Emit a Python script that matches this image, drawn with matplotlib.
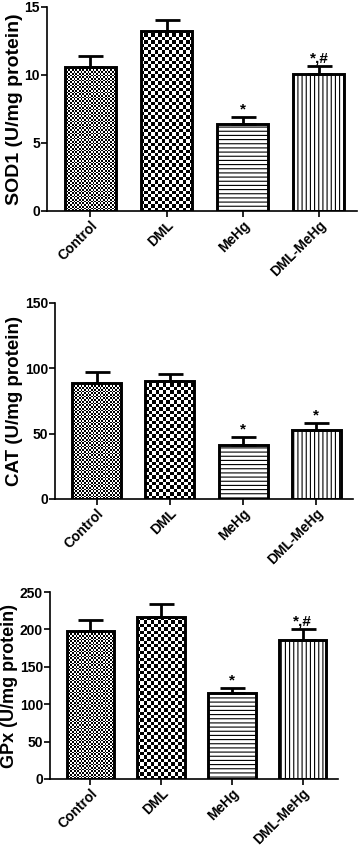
import numpy as np
import matplotlib
matplotlib.use("Agg")
import matplotlib.pyplot as plt

plt.rcParams['font.family'] = ['Liberation Sans', 'DejaVu Sans']
plt.rcParams['font.weight'] = 'bold'
plt.rcParams['hatch.linewidth'] = 0.8

groups = ["Control", "DML", "MeHg", "DML-MeHg"]

sod1_mean = [10.6, 13.25, 6.4, 10.05]
sod1_err = [0.8, 0.8, 0.5, 0.6]
sod1_marks = ["", "", "*", "*,#"]

cat_mean = [89, 90.5, 41.5, 53]
cat_err = [8, 5, 6, 5.5]
cat_marks = ["", "", "*", "*"]

gpx_mean = [198, 216, 114.5, 185.5]
gpx_err = [14, 18, 7.5, 14.5]
gpx_marks = ["", "", "*", "*,#"]

W, H = 358, 852
fig = plt.figure(figsize=(W / 100, H / 100), dpi=100)


def checker_fill(ax, bar, cell_px):
    # fill a bar with a checkerboard image clipped to the bar
    x0, y0 = bar.get_x(), bar.get_y()
    x1, y1 = x0 + bar.get_width(), y0 + bar.get_height()
    p0 = ax.transData.transform((x0, y0))
    p1 = ax.transData.transform((x1, y1))
    nx = max(1, int(round(abs(p1[0] - p0[0]) / cell_px)))
    ny = max(1, int(round(abs(p1[1] - p0[1]) / cell_px)))
    img = (np.indices((ny, nx)).sum(axis=0) % 2).astype(float)
    im = ax.imshow(img, cmap="gray", extent=(x0, x1, y0, y1), origin="lower",
                   interpolation="nearest", aspect="auto", zorder=1)
    im.set_clip_path(bar)


def panel(rect, means, errs, marks, ylim, yticks, ylabel, lab_size):
    left, top, right, bottom = rect
    ax = fig.add_axes([left / W, 1 - bottom / H, (right - left) / W, (bottom - top) / H])
    x = np.arange(len(groups))
    ax.set_xlim(-0.57, 3.5)
    ax.set_ylim(*ylim)
    hatches = ["", "", "----", "||||"]
    bars = ax.bar(x, means, width=0.67, color="white", edgecolor="black",
                  linewidth=2.1, zorder=2)
    for b, h in zip(bars, hatches):
        b.set_hatch(h)
        b.set_facecolor("none" if h == "" else "white")
    ax.errorbar(x, means, yerr=[np.zeros(4), errs], fmt="none", ecolor="black",
                elinewidth=2.0, capsize=9, capthick=2.0, zorder=3)
    checker_fill(ax, bars[0], 1.7)
    checker_fill(ax, bars[1], 3.4)
    span = ylim[1] - ylim[0]
    for xi, m, e, t in zip(x, means, errs, marks):
        if t:
            ax.text(xi, m + e + span * 0.003, t, ha="center", va="bottom",
                    fontsize=11, fontweight="bold")
    ax.set_yticks(yticks)
    ax.set_xticks(x)
    ax.set_xticklabels(groups, rotation=45, ha="right", rotation_mode="anchor",
                       fontsize=10, fontweight="bold")
    for lbl in ax.get_yticklabels():
        lbl.set_fontsize(10)
        lbl.set_fontweight("bold")
    ax.set_ylabel(ylabel, fontsize=lab_size, fontweight="bold", labelpad=1)
    ax.spines["top"].set_visible(False)
    ax.spines["right"].set_visible(False)
    ax.spines["left"].set_linewidth(1.2)
    ax.spines["bottom"].set_linewidth(1.2)
    ax.tick_params(axis="both", direction="out", width=1.2, length=4, pad=1)
    return ax


panel((47, 7, 357, 211), sod1_mean, sod1_err, sod1_marks, (0, 15), [0, 5, 10, 15],
      "SOD1 (U/mg protein)", 14)
panel((55, 303, 353, 499), cat_mean, cat_err, cat_marks, (0, 150), [0, 50, 100, 150],
      "CAT (U/mg protein)", 13.5)
panel((50, 592, 338, 779), gpx_mean, gpx_err, gpx_marks, (0, 250), [0, 50, 100, 150, 200, 250],
      "GPx (U/mg protein)", 13)

fig.savefig("out.png", dpi=100)
